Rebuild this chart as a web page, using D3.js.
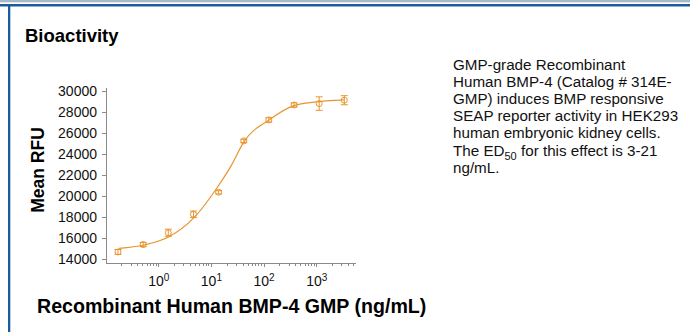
<!DOCTYPE html>
<html lang="en">
<head>
<meta charset="utf-8">
<title>Bioactivity</title>
<script src="https://cdn.jsdelivr.net/npm/d3@7/dist/d3.min.js"></script>
<style>
  body { margin: 0; padding: 0; background: #fff; }
  svg { display: block; font-family: Arial, "Liberation Sans", sans-serif; }
  .axis path, .axis line { fill: none; stroke: #8a8a8a; shape-rendering: crispEdges; }
  .axis text { font-size: 14px; fill: #111; }
</style>
</head>
<body>
<script>
// measured points: concentration (ng/mL), mean RFU, error (RFU)
var conc  = [0.169, 0.508, 1.52, 4.57, 13.7, 41.2, 123, 370, 1111, 3333];
var rfu   = [14700, 15400, 16520, 18270, 20360, 25230, 27220, 28640, 28770, 29090];
var err   = [230, 200, 340, 310, 150, 160, 210, 200, 640, 430];

// fitted curve
var fitConc = [0.177, 0.526, 1.57, 4.68, 13.9, 23.2, 41.6, 124, 369, 1101, 3281];
var fitRfu  = [15040, 15360, 16140, 17950, 21050, 22790, 25160, 27220, 28580, 28960, 29120];

var yTicks = [14000, 16000, 18000, 20000, 22000, 24000, 26000, 28000, 30000];
var xMajor = [1, 10, 100, 1000];

var descLines = [
  "GMP-grade Recombinant",
  "Human BMP-4 (Catalog # 314E-",
  "GMP) induces BMP responsive",
  "SEAP reporter activity in HEK293",
  "human embryonic kidney cells.",
  null,
  "ng/mL."
];

var W = 690, H = 332;
var orange = "#e8952f";

var svg = d3.select("body").append("svg")
    .attr("width", W)
    .attr("height", H);

// frame
svg.append("rect").attr("x", 0).attr("y", 0).attr("width", W).attr("height", 2.3).attr("fill", "#a7b6c8");
svg.append("rect").attr("x", 0).attr("y", 4).attr("width", W).attr("height", 2.5).attr("fill", "#1b5c9f");
svg.append("rect").attr("x", 8).attr("y", 4).attr("width", 2.3).attr("height", H - 4).attr("fill", "#1b5c9f");

svg.append("text")
    .attr("x", 25).attr("y", 42)
    .style("font-size", "18.5px").style("font-weight", "bold")
    .text("Bioactivity");

// scales
var x = d3.scaleLog().domain([0.1, 5500]).range([106, 355.8]);
var y = d3.scaleLinear().domain([13650, 30250]).range([263, 88]);

// y axis
var yAxis = svg.append("g").attr("class", "axis")
    .attr("transform", "translate(106,0)")
    .call(d3.axisLeft(y).tickValues(yTicks).tickSize(4).tickPadding(5).tickFormat(d3.format("d")));
yAxis.select(".domain").attr("d", "M0," + y.range()[1] + "V" + y.range()[0]);

// x axis with minor ticks
var minor = [];
x.ticks().forEach(function(t) { if (t >= 0.2 && t <= 5000) minor.push(t); });
var xAxis = svg.append("g").attr("class", "axis")
    .attr("transform", "translate(0,263)");
xAxis.append("path").attr("class", "domain")
    .attr("d", "M" + x.range()[0] + ",0H" + x.range()[1]);
xAxis.selectAll("line.minor").data(minor).enter().append("line")
    .attr("x1", function(d) { return x(d); }).attr("x2", function(d) { return x(d); })
    .attr("y1", 0)
    .attr("y2", function(d) { return xMajor.indexOf(d) >= 0 ? 4 : 2.5; });

var xl = svg.append("g").selectAll("text").data(xMajor).enter().append("text")
    .attr("x", function(d) { return x(d); })
    .attr("y", 286)
    .attr("text-anchor", "middle")
    .style("font-size", "14px").attr("fill", "#111");
xl.append("tspan").text("10");
xl.append("tspan").attr("dy", -5).style("font-size", "10px")
    .text(function(d) { return Math.round(Math.log10(d)); });

// axis titles
svg.append("text")
    .attr("transform", "translate(44,170) rotate(-90)")
    .attr("text-anchor", "middle")
    .style("font-size", "17.5px").style("font-weight", "bold")
    .text("Mean RFU");

svg.append("text")
    .attr("x", 37).attr("y", 313)
    .style("font-size", "19.6px").style("font-weight", "bold")
    .text("Recombinant Human BMP-4 GMP (ng/mL)");

// fit curve
var fit = fitConc.map(function(c, i) { return [c, fitRfu[i]]; });
svg.append("path")
    .datum(fit)
    .attr("fill", "none")
    .attr("stroke", orange)
    .attr("stroke-width", 1.2)
    .attr("d", d3.line()
        .x(function(d) { return x(d[0]); })
        .y(function(d) { return y(d[1]); })
        .curve(d3.curveMonotoneX));

// points with error bars
var pts = svg.append("g").selectAll("g").data(conc).enter().append("g")
    .attr("stroke", orange).attr("fill", "none").attr("stroke-width", 1);
pts.append("line")
    .attr("x1", function(d) { return x(d); }).attr("x2", function(d) { return x(d); })
    .attr("y1", function(d, i) { return y(rfu[i] + err[i]); })
    .attr("y2", function(d, i) { return y(rfu[i] - err[i]); });
pts.append("line")
    .attr("x1", function(d) { return x(d) - 3.5; }).attr("x2", function(d) { return x(d) + 3.5; })
    .attr("y1", function(d, i) { return y(rfu[i] + err[i]); })
    .attr("y2", function(d, i) { return y(rfu[i] + err[i]); });
pts.append("line")
    .attr("x1", function(d) { return x(d) - 3.5; }).attr("x2", function(d) { return x(d) + 3.5; })
    .attr("y1", function(d, i) { return y(rfu[i] - err[i]); })
    .attr("y2", function(d, i) { return y(rfu[i] - err[i]); });
pts.append("circle")
    .attr("cx", function(d) { return x(d); })
    .attr("cy", function(d, i) { return y(rfu[i]); })
    .attr("r", 3);

// description text
var desc = svg.append("text")
    .attr("x", 453)
    .style("font-size", "15.2px").attr("fill", "#111");
descLines.forEach(function(l, i) {
  var yy = 70 + i * 17.1;
  if (l === null) {
    desc.append("tspan").attr("x", 453).attr("y", yy).text("The ED");
    desc.append("tspan").attr("dy", 4).style("font-size", "11px").text("50");
    desc.append("tspan").attr("dy", -4).text(" for this effect is 3-21");
  } else {
    desc.append("tspan").attr("x", 453).attr("y", yy).text(l);
  }
});
</script>
</body>
</html>
